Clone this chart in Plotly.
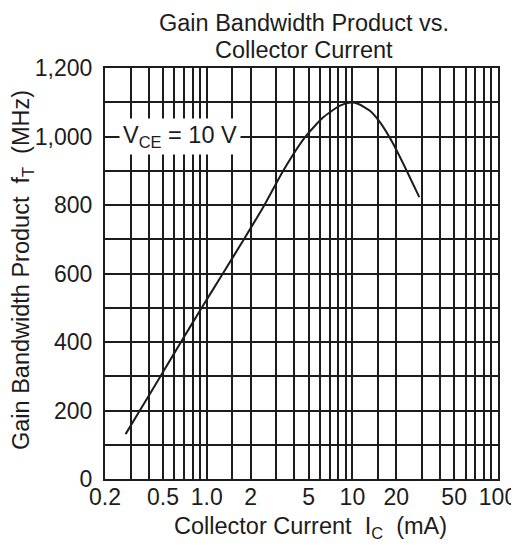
import math
import plotly.graph_objects as go

# Data
ic_ma = [0.277, 0.347, 0.481, 0.665, 0.923, 1.29, 1.80, 2.49, 3.35, 4.73, 6.31, 8.22,
         9.8, 11.0, 13.2, 15.5, 19.1, 23.6, 28.8]
ft_mhz = [131, 200, 300, 400, 500, 600, 700, 800, 900, 998, 1056, 1090,
          1099, 1095, 1075, 1041, 978, 900, 823]

x_grid_vals = [0.2, 0.3, 0.4, 0.5, 0.6, 0.7, 0.8, 0.9, 1, 1.5, 2, 3, 4, 5, 6, 7, 8, 9, 10,
               15, 20, 30, 40, 50, 60, 70, 80, 90, 100]
x_labels = {0.2: "0.2", 0.5: "0.5", 1: "1.0", 2: "2", 5: "5", 10: "10", 20: "20", 50: "50", 100: "100"}
y_grid_vals = list(range(0, 1300, 100))
y_labels = {0: "0", 200: "200", 400: "400", 600: "600", 800: "800", 1000: "1,000", 1200: "1,200"}

title_lines = ["Gain Bandwidth Product vs.", "Collector Current"]
x_title = "Collector Current  I<sub>C</sub>  (mA)"
y_title = "Gain Bandwidth Product  f<sub>T</sub>  (MHz)"
vce_label = "V<sub>CE</sub> = 10 V"
vce_pos = (0.655, 1000)

FONT = "Liberation Sans, Arial, sans-serif"
INK = "#1c1c1c"

# the page body adds an 8px margin, so the figure is drawn smaller and offset
OFF = 8
W, H = 511, 538
ML, MR, MT, MB = 97, 21, 60, 67
PW, PH = W - ML - MR, H - MT - MB


def page_to_paper(px, py):
    fx, fy = px - OFF, py - OFF
    return (fx - ML) / PW, (H - MB - fy) / PH


fig = go.Figure()
fig.add_trace(go.Scatter(
    x=ic_ma, y=ft_mhz, mode="lines",
    line=dict(color=INK, width=2, shape="spline", smoothing=0.6),
    hoverinfo="skip", showlegend=False,
))

fig.add_annotation(
    x=math.log10(vce_pos[0]), y=vce_pos[1], xref="x", yref="y",
    text=vce_label, showarrow=False,
    font=dict(family=FONT, size=23.5, color=INK),
    bgcolor="white", borderpad=3,
)

# title lines, centred at page pixel (304, 23) and (304, 50)
for i, line in enumerate(title_lines):
    ax, ay = page_to_paper(304, 23 + 27 * i)
    fig.add_annotation(
        x=ax, y=ay, xref="paper", yref="paper",
        text=line, showarrow=False,
        font=dict(family=FONT, size=23.5, color=INK),
        xanchor="center", yanchor="middle",
    )

ax, ay = page_to_paper(310, 527)
fig.add_annotation(
    x=ax, y=ay, xref="paper", yref="paper", text=x_title, showarrow=False,
    font=dict(family=FONT, size=23.5, color=INK), xanchor="center", yanchor="middle",
)
ax, ay = page_to_paper(22, 270)
fig.add_annotation(
    x=ax, y=ay, xref="paper", yref="paper", text=y_title, showarrow=False,
    textangle=-90,
    font=dict(family=FONT, size=23.5, color=INK), xanchor="center", yanchor="middle",
)

fig.update_layout(
    width=W, height=H,
    margin=dict(l=ML, r=MR, t=MT, b=MB, autoexpand=False),
    paper_bgcolor="white", plot_bgcolor="white",
    font=dict(family=FONT, size=23, color=INK),
    xaxis=dict(
        type="log", range=[math.log10(0.2), 2.0],
        tickmode="array", tickvals=x_grid_vals,
        ticktext=[x_labels.get(v, "") for v in x_grid_vals],
        showgrid=True, gridcolor=INK, gridwidth=2,
        showline=True, mirror=True, linecolor=INK, linewidth=2,
        ticks="", zeroline=False, automargin=False,
        ticklabelstandoff=-4,
        tickfont=dict(family=FONT, size=23, color=INK),
    ),
    yaxis=dict(
        range=[0, 1200],
        tickmode="array", tickvals=y_grid_vals,
        ticktext=[y_labels.get(v, "") for v in y_grid_vals],
        showgrid=True, gridcolor=INK, gridwidth=2,
        showline=True, mirror=True, linecolor=INK, linewidth=2,
        ticks="", zeroline=False, automargin=False,
        ticklabelstandoff=6,
        tickfont=dict(family=FONT, size=23, color=INK),
    ),
)

fig.write_html("out.html")
